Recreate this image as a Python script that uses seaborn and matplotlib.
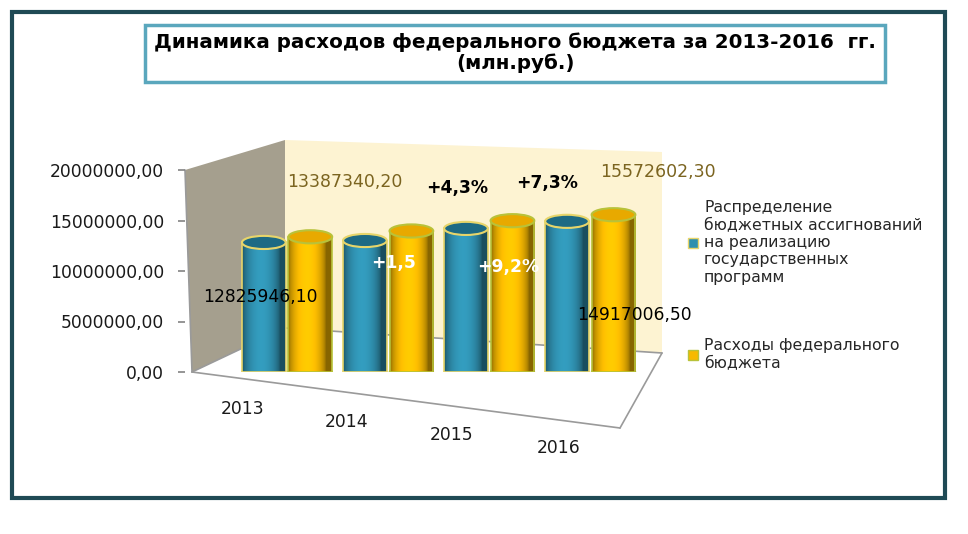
import matplotlib
matplotlib.use("Agg")
import matplotlib.pyplot as plt
import matplotlib.transforms as mtransforms
import seaborn as sns
import pandas as pd
import numpy as np
from matplotlib.patches import Ellipse, Rectangle, Polygon
from matplotlib.lines import Line2D
from matplotlib.colors import to_rgb
from matplotlib.ticker import FuncFormatter

years = ["2013", "2014", "2015", "2016"]
series_names = ["Распределение\nбюджетных ассигнований\nна реализацию\nгосударственных\nпрограмм",
                "Расходы федерального\nбюджета"]
programs = [12825946.10, 13018335.0, 14216022.0, 14917006.50]
expenses = [13387340.20, 13963000.0, 14982000.0, 15572602.30]
y_ticks = [0, 5000000, 10000000, 15000000, 20000000]
title = "Динамика расходов федерального бюджета за 2013-2016  гг.\n(млн.руб.)"

df = pd.DataFrame({
    "year": years * 2,
    "value": programs + expenses,
    "series": [series_names[0]] * 4 + [series_names[1]] * 4,
})

sns.set_theme(style="white")
plt.rcParams['font.family'] = ['DejaVu Sans']

W, H = 968, 534
fig = plt.figure(figsize=(W / 100, H / 100), dpi=100)
fig.patch.set_facecolor("white")

def P(x, y):
    return (x / W, 1 - y / H)

# outer frame
fig.add_artist(Rectangle(P(12, 498), 933 / W, 486 / H, transform=fig.transFigure,
                         fill=False, edgecolor="#1f4a55", linewidth=3))
# title box
fig.add_artist(Rectangle(P(145, 82), 740 / W, 57 / H, transform=fig.transFigure,
                         facecolor="white", edgecolor="#5aa7bd", linewidth=2.5))
fig.text(515 / W, 1 - 53 / H, title, ha="center", va="center", fontsize=14.3,
         fontweight="bold", color="black", linespacing=1.1)

# 3D-like walls (decoration behind the axes)
fig.add_artist(Polygon([P(285, 140), P(662, 152), P(662, 353), P(285, 328)], closed=True,
                       transform=fig.transFigure, facecolor="#fdf3d2", edgecolor="none", zorder=-2))
fig.add_artist(Polygon([P(185, 170), P(285, 140), P(285, 328), P(192, 372)], closed=True,
                       transform=fig.transFigure, facecolor="#a59f8e", edgecolor="none", zorder=-2))
for a, b in [((192, 372), (620, 428)), ((620, 428), (662, 353)), ((285, 328), (662, 353)),
             ((192, 372), (285, 328)), ((185, 170), (192, 372))]:
    fig.add_artist(Line2D([P(*a)[0], P(*b)[0]], [P(*a)[1], P(*b)[1]], transform=fig.transFigure,
                          color="#9a9a9a", linewidth=1.2, zorder=-1))

ax = fig.add_axes([185 / W, 1 - 372 / H, 475 / W, 202 / H])
ax.set_facecolor("none")
ax.patch.set_alpha(0)

colors = ["#2f8fae", "#f7b900"]
edges = ["#e7d56a", "#b8c23a"]
cap_colors = ["#1d6a84", "#e8a900"]
sns.barplot(data=df, x="year", y="value", hue="series", palette=colors,
            ax=ax, width=0.92, gap=0.06, legend=True, saturation=1)

grad = np.linspace(0, 1, 64)
shade = 0.55 + 0.55 * np.sin(np.pi * np.clip(grad * 1.15, 0, 1)) ** 0.6
for i, patch in enumerate(list(ax.patches[:8])):
    s = i // 4
    base = np.array(to_rgb(colors[s]))
    img = np.clip(base[None, :] * shade[:, None], 0, 1)[None, :, :]
    x0 = patch.get_x()
    w = patch.get_width()
    h = patch.get_height()
    im = ax.imshow(img, extent=(x0, x0 + w, 0, h), aspect="auto", zorder=2,
                   interpolation="bilinear")
    im.set_clip_path(patch)
    patch.set_edgecolor(edges[s])
    patch.set_linewidth(1.2)
    patch.set_zorder(2.5)
    patch.set_facecolor("none")
    ax.add_patch(Ellipse((x0 + w / 2, h), w, 1300000, facecolor=cap_colors[s],
                         edgecolor=edges[s], linewidth=1.5, zorder=3))
    ax.add_patch(Ellipse((x0 + w / 2, 0), w, 1300000, facecolor=tuple(base * 0.8),
                         edgecolor=edges[s], linewidth=1.2, zorder=1.9))

# place the groups where the perspective view puts them
ax.set_xlim(-1.01, 3.69)
ax.set_ylim(0, 20000000)
ax.set_yticks(y_ticks)
ax.yaxis.set_major_formatter(FuncFormatter(lambda v, p: f"{v:.2f}".replace(".", ",")))
ax.set_xlabel("")
ax.set_ylabel("")
ax.tick_params(axis="y", labelsize=12.3, length=5, left=True, color="#888888", pad=10,
               labelcolor="#1a1a1a")
ax.tick_params(axis="x", labelsize=12.3, pad=20, length=0, labelcolor="#1a1a1a")
for sp in ["top", "right", "bottom", "left"]:
    ax.spines[sp].set_visible(False)

# staggered year labels like the perspective view
for k, lab in enumerate(ax.get_xticklabels()):
    dx = [-45, -42, -38, -32][k]
    off = mtransforms.ScaledTranslation(dx / 100, -k * 13 / 100, fig.dpi_scale_trans)
    lab.set_transform(lab.get_transform() + off)

leg = ax.legend(loc="upper left", bbox_to_anchor=(1.03, 0.92), frameon=False,
                fontsize=11.3, handlelength=0.6, handleheight=0.6, handletextpad=0.4,
                labelspacing=3.4)
for hnd, e, c in zip(leg.legend_handles, edges, colors):
    hnd.set_edgecolor(e)
    hnd.set_facecolor(c)

def ftxt(x, y, s, **kw):
    fig.text(x / W, 1 - y / H, s, **kw)

ftxt(260, 297, "12825946,10", ha="center", va="center", fontsize=12.3, color="black")
ftxt(345, 182, "13387340,20", ha="center", va="center", fontsize=12.5, color="#7b6420")
ftxt(658, 172, "15572602,30", ha="center", va="center", fontsize=12.5, color="#7b6420")
ftxt(634, 315, "14917006,50", ha="center", va="center", fontsize=12.3, color="black")
ftxt(457, 188, "+4,3%", ha="center", va="center", fontsize=12.3, fontweight="bold", color="black")
ftxt(547, 183, "+7,3%", ha="center", va="center", fontsize=12.3, fontweight="bold", color="black")
ftxt(394, 263, "+1,5", ha="center", va="center", fontsize=12.3, fontweight="bold", color="white")
ftxt(508, 267, "+9,2%", ha="center", va="center", fontsize=12.3, fontweight="bold", color="white")

fig.savefig("out.png", dpi=100)
